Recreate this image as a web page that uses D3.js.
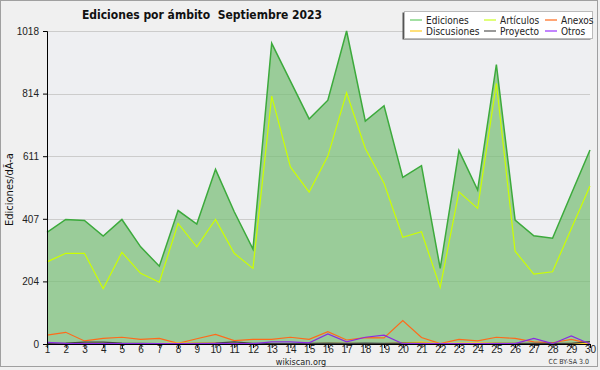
<!DOCTYPE html>
<html>
<head>
<meta charset="utf-8">
<script src="https://cdn.jsdelivr.net/npm/d3@7"></script>
<style>
  body { margin: 0; background: #f0f0f0; }
  svg { display: block; font-family: "DejaVu Sans Condensed", "DejaVu Sans", sans-serif; }
</style>
</head>
<body>
<div class="canvas"></div>
<script>
// data
const days = [1,2,3,4,5,6,7,8,9,10,11,12,13,14,15,16,17,18,19,20,21,22,23,24,25,26,27,28,29,30];
const ediciones = [363,405,402,351,405,316,253,434,390,568,430,309,978,855,732,793,1018,725,775,542,580,246,629,501,909,403,352,344,488,631];
const articulos = [267,295,295,180,298,230,201,392,316,405,295,246,806,576,494,611,817,636,523,347,365,184,495,441,848,302,227,235,375,514];
const anexos = [29,38,10,18,22,15,18,2,17,31,11,15,15,22,15,40,13,21,20,76,21,1,15,10,22,18,7,4,15,1];
const discusiones = [1,1,2,2,1,1,1,3,3,4,2,1,1,1,1,2,2,1,1,4,6,1,3,4,3,2,1,1,2,1];
const proyecto = [2,3,6,6,3,2,1,1,2,3,7,2,1,1,2,3,2,3,2,3,2,1,1,1,2,2,2,2,2,8];
const otros = [5,2,1,1,1,1,1,1,1,2,1,1,7,7,4,33,7,22,29,1,1,1,1,1,1,1,18,1,26,0];
const yMax = 1018;

const seriesLines = [
  {name: 'Anexos', values: anexos, color: '#ff6a1a'},
  {name: 'Discusiones', values: discusiones, color: '#ffcc22'},
  {name: 'Proyecto', values: proyecto, color: '#444444'},
  {name: 'Otros', values: otros, color: '#8a2be2'}
];
const legendItems = [
  {name: 'Ediciones', color: '#66cc66'},
  {name: 'Artículos', color: '#ccff22'},
  {name: 'Anexos', color: '#ff6a1a'},
  {name: 'Discusiones', color: '#ffcc22'},
  {name: 'Proyecto', color: '#555555'},
  {name: 'Otros', color: '#9933ff'}
];

const W = 600, H = 370;
const margin = {top: 31, right: 10, bottom: 26, left: 47};

const svg = d3.select('.canvas')
  .append('svg')
    .attr('width', W)
    .attr('height', H);

// outer frame
svg.append('rect')
  .attr('x', 0.5).attr('y', 0.5)
  .attr('width', W - 3).attr('height', H - 4)
  .attr('fill', '#f0f0f0')
  .attr('stroke', '#a0a0a0');

const x = d3.scaleLinear()
  .domain([1, 30])
  .range([margin.left, W - margin.right]);

const y = d3.scaleLinear()
  .domain([0, yMax])
  .range([H - margin.bottom, margin.top]);

// plot background
svg.append('rect')
  .attr('x', x(1)).attr('y', y(yMax))
  .attr('width', x(30) - x(1)).attr('height', y(0) - y(yMax))
  .attr('fill', '#eeeff2');

const majorTicks = d3.range(0, 6).map(i => yMax * i / 5);
const minorTicks = d3.range(0, 21).map(i => yMax * i / 20);

// grid
svg.append('g')
  .selectAll('line')
  .data(majorTicks.slice(1))
  .enter().append('line')
    .attr('x1', x(1)).attr('x2', x(30))
    .attr('y1', d => Math.round(y(d)) + 0.5)
    .attr('y2', d => Math.round(y(d)) + 0.5)
    .attr('stroke', '#cccccc');

// Ediciones area
const area = d3.area()
  .x((d, i) => x(days[i]))
  .y0(y(0))
  .y1(d => y(d));

svg.append('path')
  .attr('d', area(ediciones))
  .attr('fill', 'rgb(118,189,116)')
  .attr('fill-opacity', 0.7);

const line = d3.line()
  .x((d, i) => x(days[i]))
  .y(d => y(d));

svg.append('path')
  .attr('d', line(ediciones))
  .attr('fill', 'none')
  .attr('stroke', '#3caa3c')
  .attr('stroke-width', 1.5);

svg.append('path')
  .attr('d', line(articulos))
  .attr('fill', 'none')
  .attr('stroke', '#ccff00')
  .attr('stroke-width', 1.2);

seriesLines.forEach(s => {
  svg.append('path')
    .attr('d', line(s.values))
    .attr('fill', 'none')
    .attr('stroke', s.color)
    .attr('stroke-width', 1.2);
});

// axes
const yAxis = d3.axisLeft(y)
  .tickValues(majorTicks)
  .tickSize(4)
  .tickFormat(d => Math.round(d));
const yMinor = d3.axisLeft(y)
  .tickValues(minorTicks)
  .tickSize(3)
  .tickFormat('');

const yAxisGroup = svg.append('g')
  .attr('transform', `translate(${x(1)},0)`);
yAxisGroup.call(yMinor);
yAxisGroup.call(yAxis);
yAxisGroup.selectAll('text').attr('font-size', 10).attr('fill', '#222').attr('dx', '-1');

const xAxis = d3.axisBottom(x)
  .tickValues(days)
  .tickSize(4)
  .tickFormat(d => d);
const xAxisGroup = svg.append('g')
  .attr('transform', `translate(0,${y(0)})`)
  .call(xAxis);
xAxisGroup.selectAll('text')
  .attr('font-size', 10)
  .attr('fill', '#222')
  .attr('y', 3)
  .attr('dy', '0.62em');

svg.selectAll('.domain').attr('stroke', '#000');

// titles
svg.append('text')
  .attr('x', 202).attr('y', 19)
  .attr('text-anchor', 'middle')
  .attr('font-weight', 'bold')
  .attr('font-size', 12)
  .attr('fill', '#111')
  .style('white-space', 'pre')
  .text('Ediciones por ámbito  Septiembre 2023');

svg.append('text')
  .attr('transform', `translate(13,${(y(0) + y(yMax)) / 2 + 2}) rotate(-90)`)
  .attr('text-anchor', 'middle')
  .attr('font-size', 11)
  .attr('fill', '#111')
  .text('Ediciones/dÃ-a');

svg.append('text')
  .attr('x', 301).attr('y', 365)
  .attr('text-anchor', 'middle')
  .attr('font-size', 9)
  .attr('fill', '#222')
  .text('wikiscan.org');

svg.append('text')
  .attr('x', 589).attr('y', 364)
  .attr('text-anchor', 'end')
  .attr('font-size', 7)
  .attr('fill', '#333')
  .text('CC BY-SA 3.0');

// legend
const legendGroup = svg.append('g').attr('transform', 'translate(404,11)');
legendGroup.append('rect')
  .attr('x', -1.5).attr('y', 1.5)
  .attr('width', 188).attr('height', 27)
  .attr('fill', '#555');
legendGroup.append('rect')
  .attr('x', 0.5).attr('y', 0.5)
  .attr('width', 188).attr('height', 27)
  .attr('fill', '#fff')
  .attr('stroke', '#bbb');

const colX = [6, 80, 141];
const rowY = [9, 20];
const items = legendGroup.selectAll('g.item')
  .data(legendItems)
  .enter().append('g')
    .attr('class', 'item')
    .attr('transform', (d, i) => `translate(${colX[i % 3]},${rowY[Math.floor(i / 3)]})`);
items.append('line')
  .attr('x1', 0).attr('x2', 12)
  .attr('y1', 0).attr('y2', 0)
  .attr('stroke', d => d.color)
  .attr('stroke-width', 1.2);
items.append('text')
  .attr('x', 16).attr('y', 4)
  .attr('font-size', 10)
  .attr('fill', '#222')
  .text(d => d.name);
</script>
</body>
</html>
